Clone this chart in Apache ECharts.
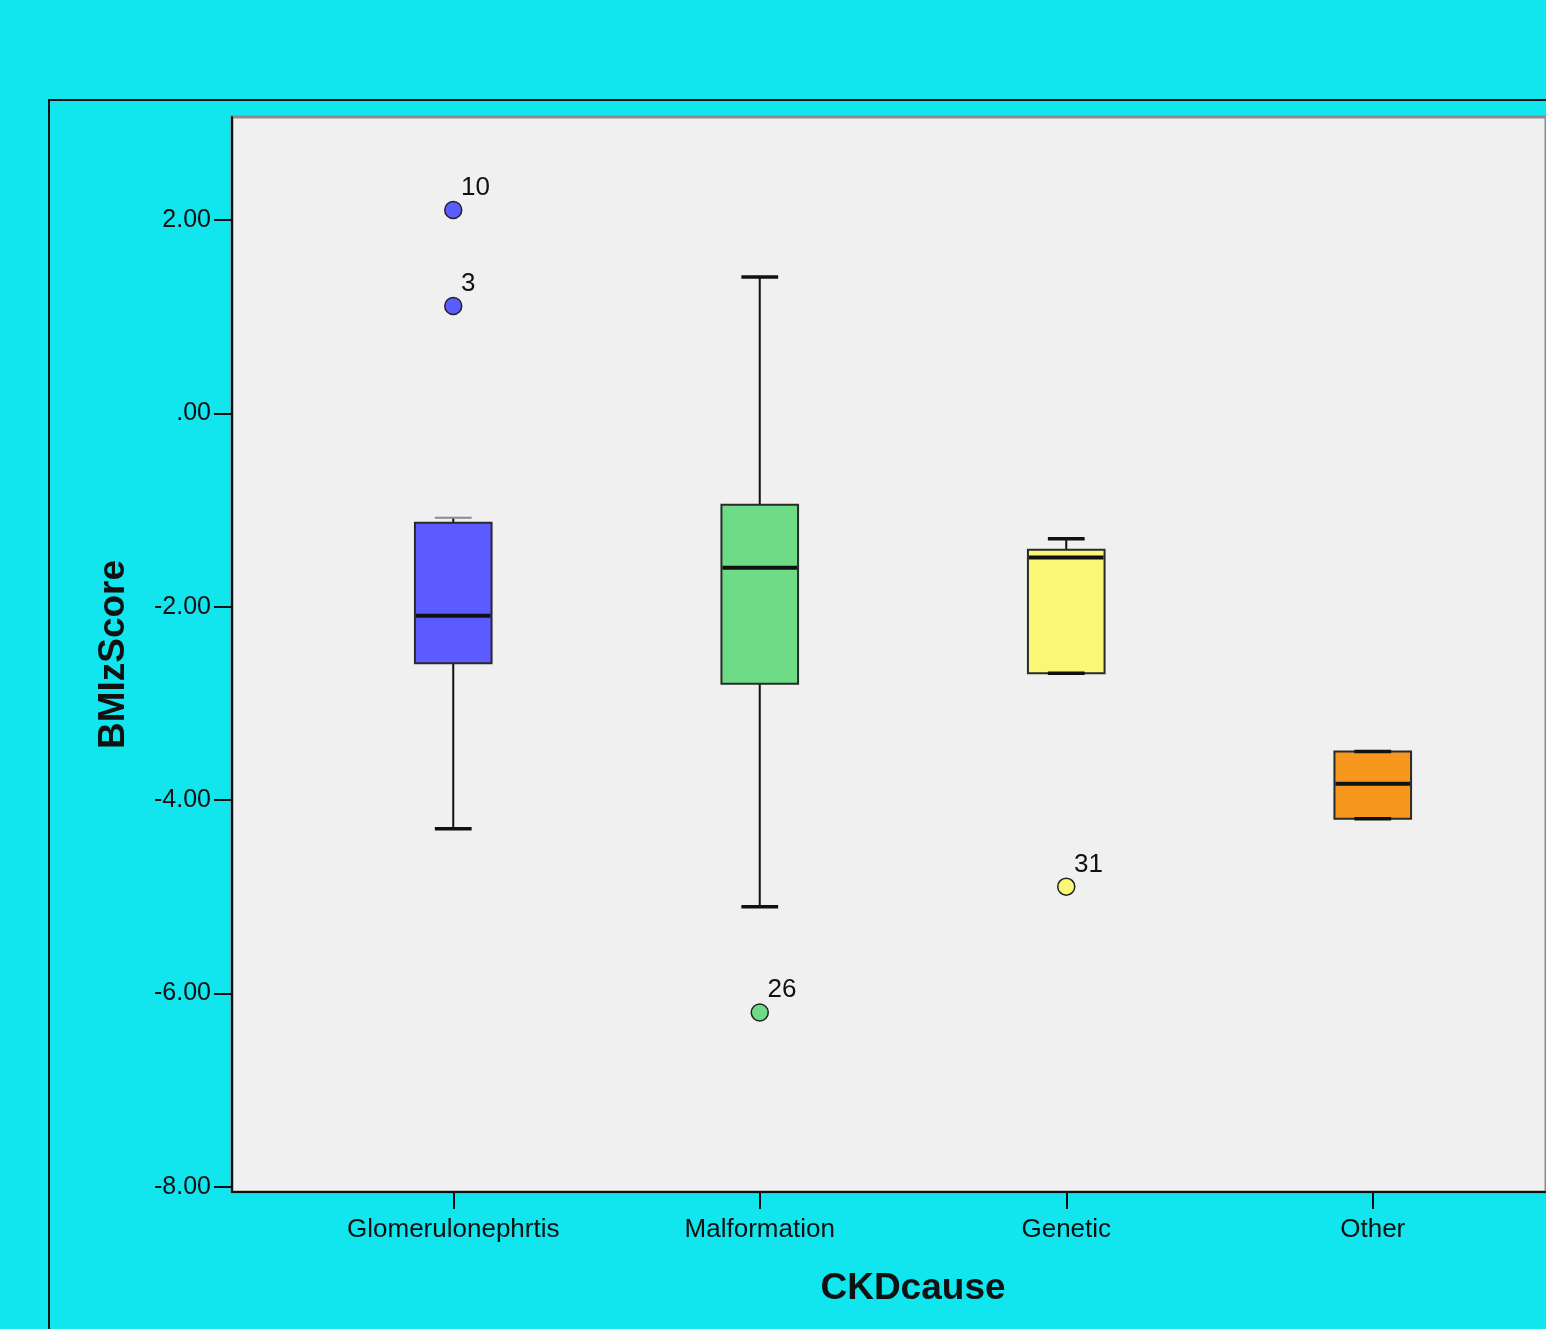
<!DOCTYPE html>
<html>
<head>
<meta charset="utf-8">
<script src="https://cdn.jsdelivr.net/npm/echarts@6/dist/echarts.min.js"></script>
<style>
html,body{margin:0;padding:0;background:#11E5EE;}
#chart{width:1546px;height:1329px;}
</style>
</head>
<body>
<div id="chart"></div>
<script>
// ---- data ----
const categories = ['Glomerulonephrtis', 'Malformation', 'Genetic', 'Other'];
// [lower whisker, Q1, median, Q3, upper whisker]
const lowWhisker = [-4.295, -5.101, -2.687, -4.191];
const q1Values   = [-2.584, -2.796, -2.687, -4.191];
const medians    = [-2.093, -1.597, -1.490, -3.829];
const q3Values   = [-1.132, -0.946, -1.411, -3.496];
const highWhisker= [-1.080, 1.411, -1.297, -3.496];
const boxColors  = ['#5B5BFF', '#6EDC86', '#FBF776', '#F7981E'];
const outlierCats   = [0, 0, 1, 2];
const outlierValues = [2.103, 1.111, -6.196, -4.894];
const outlierLabels = ['10', '3', '26', '31'];
const yTicks = [-8, -6, -4, -2, 0, 2];

const FONT = "'Liberation Sans', Arial, sans-serif";
const yMin = -8.052, yMax = 3.065;

const boxData = categories.map((c, i) => [i, lowWhisker[i], q1Values[i], medians[i], q3Values[i], highWhisker[i]]);
const outData = outlierValues.map((v, i) => ({
  value: [outlierCats[i], v],
  label: { formatter: outlierLabels[i] },
  itemStyle: { color: boxColors[outlierCats[i]] }
}));

function renderBox(params, api) {
  const x = api.value(0);
  const lo = api.coord([x, api.value(1)]);
  const q1 = api.coord([x, api.value(2)]);
  const med = api.coord([x, api.value(3)]);
  const q3 = api.coord([x, api.value(4)]);
  const hi = api.coord([x, api.value(5)]);
  const bw = api.size([1, 0])[0] * 0.25;
  const cw = bw * 0.48;
  const cx = q1[0];
  const col = boxColors[params.dataIndex];
  const line = (x1, y1, x2, y2, w, c) => ({
    type: 'line', shape: { x1, y1, x2, y2 },
    style: { stroke: c || '#111', lineWidth: w }
  });
  // a cap sitting very close to the box edge renders lighter (as in the source)
  const hiCapColor = (q3[1] - hi[1]) > 0 && (q3[1] - hi[1]) < 6 ? '#8a8a8a' : '#111';
  return {
    type: 'group',
    children: [
      line(cx, hi[1], cx, q3[1], 2),
      line(cx, q1[1], cx, lo[1], 2),
      { type: 'rect', shape: { x: cx - bw / 2, y: q3[1], width: bw, height: q1[1] - q3[1] },
        style: { fill: col, stroke: '#2a2a2a', lineWidth: 2 } },
      line(cx - bw / 2 + 1, med[1], cx + bw / 2 - 1, med[1], 4),
      line(cx - cw / 2, hi[1], cx + cw / 2, hi[1], hiCapColor === '#111' ? 3.5 : 2, hiCapColor),
      line(cx - cw / 2, lo[1], cx + cw / 2, lo[1], 3.5)
    ]
  };
}

const chart = echarts.init(document.getElementById('chart'), null, { renderer: 'canvas' });
chart.setOption({
  backgroundColor: '#11E5EE',
  animation: false,
  graphic: [{
    type: 'rect', shape: { x: 49, y: 100, width: 1600, height: 1400 },
    style: { fill: 'none', stroke: '#111', lineWidth: 2 }, z: -1
  }],
  grid: [
    { left: 232, right: -20, top: 117, bottom: 137, show: true,
      backgroundColor: '#F0F0F0', borderColor: '#8c8c8c', borderWidth: 3 },
    { left: 300, right: 20, top: 117, bottom: 137 }
  ],
  xAxis: [
    { type: 'value', gridIndex: 0, min: 0, max: 1,
      axisLine: { show: true, onZero: false, lineStyle: { color: '#111', width: 2 } },
      axisTick: { show: false }, axisLabel: { show: false }, splitLine: { show: false } },
    { type: 'category', gridIndex: 1, data: categories, position: 'bottom',
      axisLine: { show: false, onZero: false },
      axisTick: { show: true, alignWithLabel: true, length: 17, lineStyle: { color: '#111', width: 2 } },
      axisLabel: { color: '#111', fontFamily: FONT, fontSize: 26, margin: 25 },
      splitLine: { show: false },
      name: 'CKDcause', nameLocation: 'middle', nameGap: 78,
      nameTextStyle: { color: '#111', fontFamily: FONT, fontSize: 37, fontWeight: 'bold' } }
  ],
  yAxis: [
    { type: 'value', gridIndex: 0, min: yMin, max: yMax,
      axisLine: { show: true, onZero: false, lineStyle: { color: '#111', width: 2 } },
      axisTick: { show: true, length: 18, customValues: yTicks, lineStyle: { color: '#111', width: 2 } },
      axisLabel: { color: '#111', fontFamily: FONT, fontSize: 25, margin: 21, customValues: yTicks,
        padding: [4, 0, 0, 0],
        formatter: v => v.toFixed(2).replace(/^(-?)0\./, '$1.') },
      splitLine: { show: false },
      name: 'BMIzScore', nameLocation: 'middle', nameGap: 100,
      nameTextStyle: { color: '#111', fontFamily: FONT, fontSize: 37, fontWeight: 'bold' } },
    { type: 'value', gridIndex: 1, min: yMin, max: yMax, show: false, splitLine: { show: false } }
  ],
  series: [
    { type: 'custom', xAxisIndex: 1, yAxisIndex: 1, renderItem: renderBox,
      encode: { x: 0, y: [1, 2, 3, 4, 5] }, data: boxData, z: 3 },
    { type: 'scatter', xAxisIndex: 1, yAxisIndex: 1, data: outData, symbol: 'circle', symbolSize: 17,
      itemStyle: { borderColor: '#222', borderWidth: 1.5, opacity: 1 },
      label: { show: true, position: [17, -26], align: 'left', color: '#111', opacity: 1,
        fontFamily: FONT, fontSize: 26 },
      z: 4 }
  ]
});
</script>
</body>
</html>
